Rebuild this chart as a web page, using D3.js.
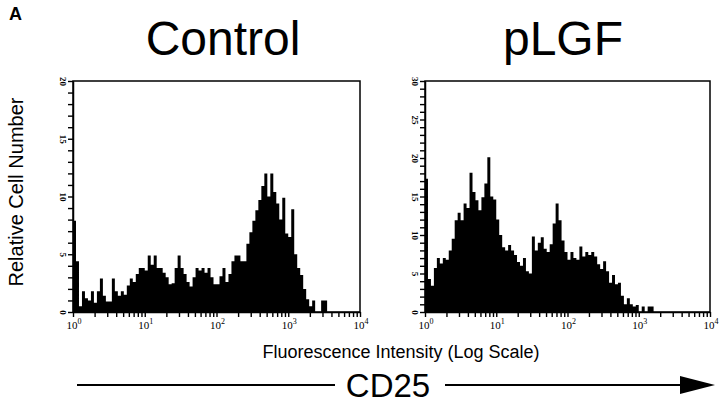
<!DOCTYPE html>
<html>
<head>
<meta charset="utf-8">
<script src="https://cdn.jsdelivr.net/npm/d3@7"></script>
<style>
  body { margin: 0; background: #fff; }
  svg { display: block; }
</style>
</head>
<body>
<div class="box"></div>
<script>
// histogram counts, 96 channels spread evenly over log10 0..4
const controlCounts = [
  7.9, 4.4, 0.5, 1.8, 1.2, 1.0, 1.8, 0.8, 1.8, 2.9, 1.4, 0.9, 0.9, 2.9, 1.8, 1.4,
  1.8, 1.5, 2.3, 2.9, 2.6, 3.3, 3.8, 3.8, 3.6, 4.9, 4.1, 4.9, 3.8, 3.8, 3.4, 3.0,
  2.4, 2.5, 3.8, 4.9, 3.8, 3.3, 2.6, 2.2, 3.0, 3.8, 3.6, 3.8, 3.4, 3.8, 3.0, 2.4,
  2.4, 3.1, 3.8, 2.6, 3.3, 4.4, 4.9, 4.9, 4.4, 4.4, 5.9, 6.9, 7.9, 8.8, 9.7, 10.9,
  12.0, 10.0, 12.0, 10.4, 9.4, 8.0, 9.9, 6.8, 6.5, 8.9, 5.0, 3.8, 3.2, 2.0, 1.1, 0.5,
  1.0, 0, 0, 1.0, 1.0, 0, 0, 0, 0, 0, 0, 0, 0, 0, 0, 0
];
const plgfCounts = [
  17.3, 4.3, 3.4, 5.7, 7.0, 6.3, 7.0, 6.8, 8.0, 9.5, 11.9, 12.9, 11.9, 14.1, 13.5, 18.1,
  15.6, 14.5, 13.2, 14.9, 16.7, 20.1, 15.0, 14.6, 12.0, 10.0, 8.4, 8.0, 8.7, 8.0, 7.4, 6.5,
  6.0, 7.0, 5.3, 5.0, 9.8, 8.0, 9.0, 9.7, 8.2, 7.8, 8.8, 11.5, 14.1, 11.9, 9.3, 7.8,
  6.8, 7.8, 7.0, 6.8, 8.5, 7.2, 7.8, 7.4, 7.8, 7.2, 6.2, 5.6, 6.6, 5.3, 3.8, 4.8,
  3.6, 3.8, 2.1, 1.0, 1.8, 1.0, 0.7, 0.9, 0, 0.7, 0, 0.7, 0.7, 0, 0, 0,
  0, 0, 0, 0, 0, 0, 0, 0, 0, 0, 0, 0, 0, 0, 0, 0
];
const panelTitles = ["Control", "pLGF"];
const yMax = [20, 30];
const xDecades = [0, 1, 2, 3, 4];

const width = 720, height = 404;
const svg = d3.select(".box").append("svg")
  .attr("width", width).attr("height", height)
  .attr("font-family", "'Liberation Sans', Arial, sans-serif");

const panels = [
  { counts: controlCounts, title: panelTitles[0], ymax: yMax[0], left: 73, right: 360, cx: 223 },
  { counts: plgfCounts, title: panelTitles[1], ymax: yMax[1], left: 425, right: 710, cx: 563 }
];
const plotTop = 81, plotBottom = 312;

panels.forEach(function (p) {
  const x = d3.scaleLog().domain([1, 1e4]).range([p.left, p.right]);
  const y = d3.scaleLinear().domain([0, p.ymax]).range([plotBottom, plotTop]);
  const n = p.counts.length;
  const g = svg.append("g");

  // histogram as a step area
  const pts = p.counts.map((d, i) => [Math.pow(10, 4 * i / n), d]);
  pts.push([1e4, 0]);
  const area = d3.area()
    .curve(d3.curveStepAfter)
    .x(d => x(d[0]))
    .y0(plotBottom)
    .y1(d => y(d[1]));
  g.append("path")
    .datum(pts)
    .attr("d", area)
    .attr("fill", "#000");

  // frame
  g.append("rect")
    .attr("x", p.left).attr("y", plotTop)
    .attr("width", p.right - p.left).attr("height", plotBottom - plotTop)
    .attr("fill", "none").attr("stroke", "#000").attr("stroke-width", 1.5);

  // x axis, log ticks
  const xTicks = [];
  for (let dec = 0; dec < 4; dec++) {
    for (let m = 1; m < 10; m++) xTicks.push(m * Math.pow(10, dec));
  }
  xTicks.push(1e4);
  const xAxis = g.append("g")
    .attr("transform", `translate(0,${plotBottom})`)
    .call(d3.axisBottom(x).tickValues(xTicks).tickSize(5).tickSizeOuter(0).tickFormat(""));
  xAxis.select(".domain").attr("stroke-width", 1.5);
  xAxis.selectAll(".tick line").attr("stroke-width", 1.4);

  const lab = g.append("g").selectAll("text")
    .data(xDecades)
    .join("text")
    .attr("x", d => x(Math.pow(10, d)) + 1)
    .attr("y", plotBottom + 17)
    .attr("text-anchor", "middle")
    .attr("font-family", "'Liberation Serif', 'Times New Roman', serif")
    .attr("font-size", 11);
  lab.append("tspan").text("10");
  lab.append("tspan").attr("dy", -5).attr("font-size", 8).text(d => d);

  // y axis
  const yAxis = g.append("g")
    .attr("transform", `translate(${p.left},0)`)
    .call(d3.axisLeft(y).tickValues(d3.range(0, p.ymax + 1)).tickSize(5).tickSizeOuter(0)
      .tickFormat(d => d % 5 === 0 ? d : ""));
  yAxis.select(".domain").attr("stroke-width", 1.5);
  yAxis.selectAll(".tick line").attr("stroke-width", 1.4);
  yAxis.selectAll(".tick text")
    .attr("font-size", 9)
    .attr("font-family", "'Liberation Serif', 'Times New Roman', serif")
    .attr("font-weight", "bold")
    .attr("x", 0).attr("dy", 0)
    .attr("text-anchor", "middle")
    .attr("transform", "translate(-13,0) rotate(90)");

  // title
  svg.append("text")
    .attr("x", p.cx).attr("y", 55)
    .attr("text-anchor", "middle")
    .attr("font-size", 48)
    .text(p.title);
});

svg.append("text")
  .attr("x", 9).attr("y", 20)
  .attr("font-size", 18).attr("font-weight", "bold")
  .text("A");

svg.append("text")
  .attr("transform", "translate(23,192) rotate(-90)")
  .attr("text-anchor", "middle")
  .attr("font-size", 20)
  .text("Relative Cell Number");

svg.append("text")
  .attr("x", 401).attr("y", 358)
  .attr("text-anchor", "middle")
  .attr("font-size", 18)
  .text("Fluorescence Intensity (Log Scale)");

svg.append("text")
  .attr("x", 388).attr("y", 397)
  .attr("text-anchor", "middle")
  .attr("font-size", 33)
  .text("CD25");

svg.append("line")
  .attr("x1", 77).attr("x2", 335).attr("y1", 385).attr("y2", 385)
  .attr("stroke", "#000").attr("stroke-width", 2);
svg.append("line")
  .attr("x1", 445).attr("x2", 685).attr("y1", 385).attr("y2", 385)
  .attr("stroke", "#000").attr("stroke-width", 2);
svg.append("path")
  .attr("d", "M680,376 L715,385 L680,394 Z")
  .attr("fill", "#000");
</script>
</body>
</html>
